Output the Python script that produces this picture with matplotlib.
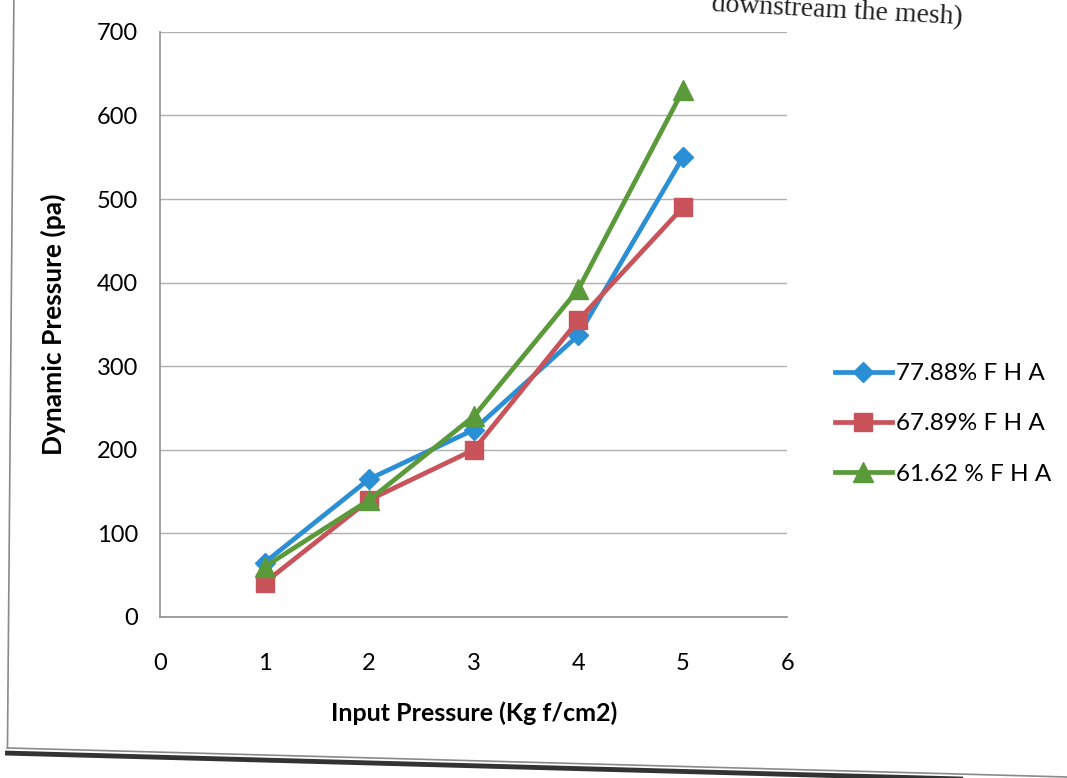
import matplotlib
matplotlib.use("Agg")
import matplotlib.pyplot as plt
from matplotlib.lines import Line2D

# input pressure (Kg f/cm2)
input_pressure = [1, 2, 3, 4, 5]

# dynamic pressure (pa) for each free hole area
fha_7788 = [65, 165, 224, 337, 550]
fha_6789 = [41, 140, 200, 355, 490]
fha_6162 = [60, 140, 240, 392, 630]

series_labels = ["77.88% F H A", "67.89% F H A", "61.62 % F H A"]
x_ticks = [0, 1, 2, 3, 4, 5, 6]
y_ticks = [0, 100, 200, 300, 400, 500, 600, 700]

plt.rcParams["font.family"] = ["Lato", "DejaVu Sans"]

fig = plt.figure(figsize=(10.67, 7.78), dpi=100)
ax = fig.add_axes([0.150, 0.207, 0.588, 0.752])

styles = [
    dict(color="#2b8fd6", marker="D", markersize=10),
    dict(color="#c9535a", marker="s", markersize=13),
    dict(color="#5b9a3a", marker="^", markersize=14),
]
for vals, lab, st in zip([fha_7788, fha_6789, fha_6162], series_labels, styles):
    ax.plot(input_pressure, vals, lw=3.4, label=lab, **st)

ax.set_xlim(0, 6)
ax.set_ylim(0, 700)
ax.set_xticks(x_ticks)
ax.set_yticks(y_ticks)
ax.tick_params(axis="both", length=0, labelsize=17, pad=16)
ax.tick_params(axis="x", pad=26)
ax.grid(axis="y", color="#b0b0b0", lw=1)
ax.set_axisbelow(True)
for side in ["top", "right"]:
    ax.spines[side].set_visible(False)
for side in ["left", "bottom"]:
    ax.spines[side].set_color("#909090")
    ax.spines[side].set_linewidth(1.2)

ax.set_xlabel("Input Pressure (Kg f/cm2)", fontsize=18, fontweight="bold", labelpad=20)
ax.set_ylabel("Dynamic Pressure (pa)", fontsize=19, fontweight="bold", labelpad=22)

leg = ax.legend(loc="center left", bbox_to_anchor=(1.06, 0.33), frameon=False,
                fontsize=17.5, handlelength=2.35, handletextpad=0.15,
                labelspacing=1.2, borderaxespad=0)

# caption of the page running above the chart
fig.text(0.9016, 0.969, "downstream the mesh)", ha="right", va="baseline",
         rotation=-3, rotation_mode="anchor", fontsize=20,
         family="Liberation Serif", color="#222222")

# chart area border and page edge
fig.add_artist(Line2D([0.013, 0.007], [1.0, 0.0386], color="#8a8a8a", lw=1.2))
fig.add_artist(Line2D([0.007, 1.0], [0.0386, 0.0013], color="#8a8a8a", lw=1.2))
fig.add_artist(Line2D([0.007, 1.0], [0.032, -0.005], color="#333333", lw=3.5))

fig.savefig("out.png", dpi=100, facecolor="white")
